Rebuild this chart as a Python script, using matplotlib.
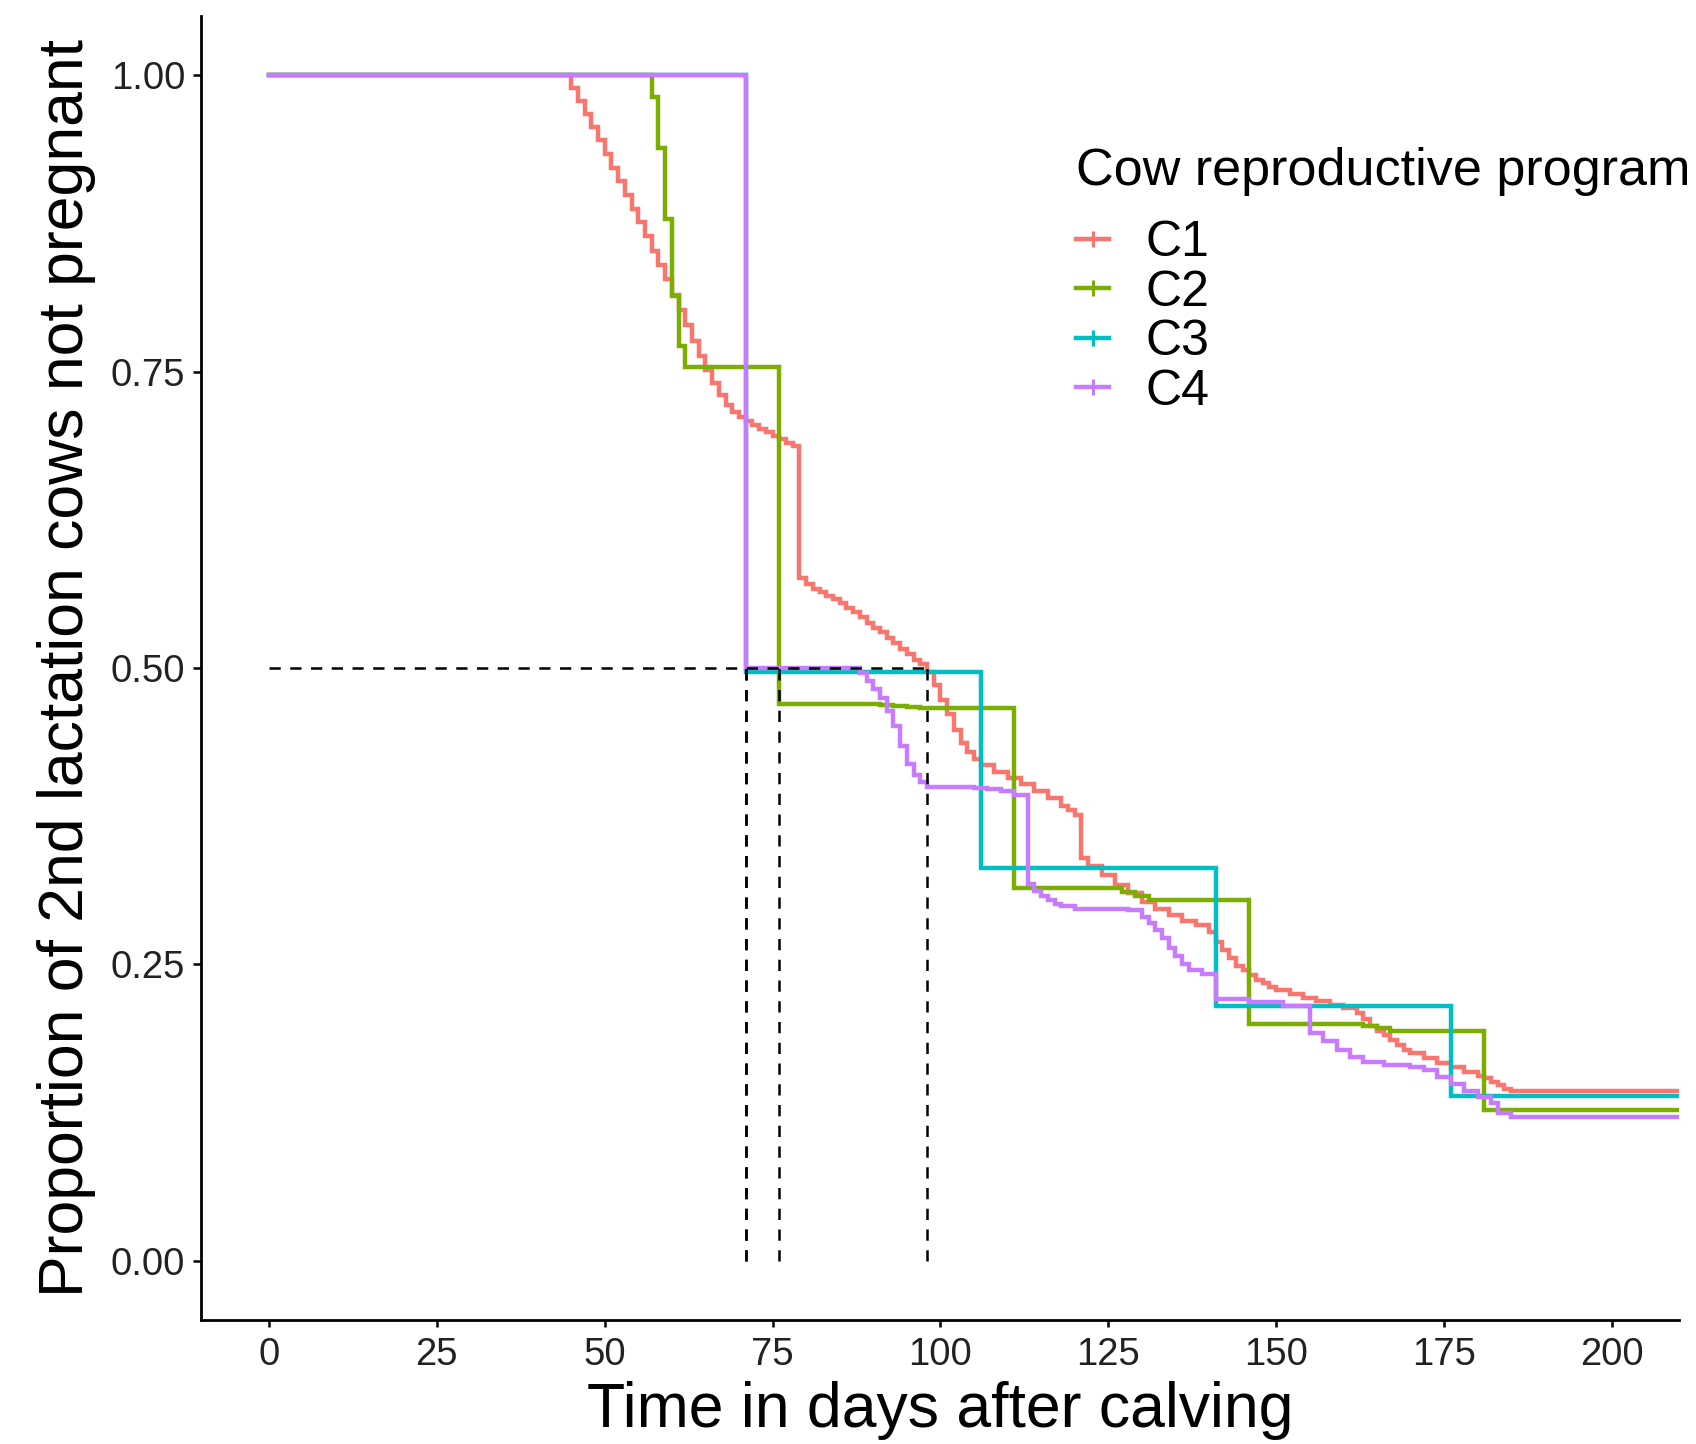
import matplotlib
matplotlib.use("Agg")
import matplotlib.pyplot as plt
from matplotlib.lines import Line2D

plt.rcParams['font.family'] = ['Liberation Sans', 'DejaVu Sans']

# ---- data (time in days, proportion not pregnant) ----
c1_t = [0, 45, 46, 47, 48, 49, 50, 51, 52, 53, 54, 55, 56, 57, 58, 59, 60, 61, 62, 63, 64, 65,
        66, 67, 68, 69, 70, 71, 72, 73, 74, 75, 76, 77, 78, 79, 80, 81, 82, 83, 84, 85, 86, 87,
        88, 89, 90, 91, 92, 93, 94, 95, 96, 97, 98, 99, 100, 101, 102, 103, 104, 105, 106, 108,
        110, 112, 114, 116, 118, 119, 120, 121, 122, 124, 126, 128, 130, 132, 134, 136, 138, 140,
        141, 142, 143, 144, 145, 146, 147, 148, 149, 150, 152, 154, 156, 158, 160, 162, 163, 164,
        165, 166, 167, 168, 169, 170, 172, 174, 176, 178, 180, 181, 182, 183, 184, 185, 210]
c1_s = [1.000, 0.989, 0.978, 0.967, 0.956, 0.945, 0.934, 0.922, 0.911, 0.899, 0.887, 0.876, 0.864,
        0.852, 0.840, 0.828, 0.815, 0.802, 0.789, 0.776, 0.763, 0.751, 0.740, 0.730, 0.722, 0.716,
        0.712, 0.708, 0.705, 0.702, 0.699, 0.696, 0.693, 0.690, 0.687, 0.576, 0.571, 0.567, 0.564,
        0.561, 0.558, 0.555, 0.551, 0.547, 0.543, 0.538, 0.534, 0.530, 0.525, 0.521, 0.516, 0.512,
        0.507, 0.503, 0.497, 0.486, 0.473, 0.461, 0.448, 0.437, 0.429, 0.423, 0.418, 0.412, 0.407,
        0.402, 0.396, 0.390, 0.384, 0.380, 0.376, 0.340, 0.333, 0.325, 0.317, 0.310, 0.303, 0.297,
        0.292, 0.287, 0.283, 0.277, 0.269, 0.262, 0.255, 0.249, 0.245, 0.241, 0.237, 0.234, 0.231,
        0.228, 0.225, 0.222, 0.219, 0.216, 0.213, 0.209, 0.204, 0.198, 0.194, 0.190, 0.186, 0.182,
        0.178, 0.175, 0.171, 0.167, 0.163, 0.159, 0.156, 0.154, 0.151, 0.148, 0.145, 0.143, 0.143]

c2_t = [0, 57, 58, 59, 60, 61, 62, 76, 91, 93, 95, 97, 111, 127, 129, 131, 146, 163, 165, 167, 181, 210]
c2_s = [1.000, 0.982, 0.939, 0.879, 0.814, 0.772, 0.754, 0.470, 0.469, 0.468, 0.467, 0.466,
        0.314, 0.311, 0.308, 0.304, 0.200, 0.198, 0.196, 0.194, 0.127, 0.127]

c3_t = [0, 71, 106, 141, 176, 210]
c3_s = [1.000, 0.497, 0.331, 0.215, 0.139, 0.139]

c4_t = [0, 71, 88, 89, 90, 91, 92, 93, 94, 95, 96, 97, 98, 105, 107, 109, 111, 113, 114, 115, 116,
        117, 118, 120, 128, 130, 131, 132, 133, 134, 135, 136, 137, 139, 141, 146, 151, 155, 157,
        159, 161, 163, 166, 170, 172, 174, 176, 178, 180, 182, 183, 185, 210]
c4_s = [1.000, 0.500, 0.496, 0.489, 0.482, 0.475, 0.464, 0.451, 0.434, 0.419, 0.410, 0.404, 0.400,
        0.399, 0.398, 0.396, 0.393, 0.318, 0.312, 0.308, 0.304, 0.301, 0.299, 0.297, 0.296, 0.290,
        0.285, 0.279, 0.272, 0.264, 0.257, 0.250, 0.245, 0.242, 0.221, 0.218, 0.215, 0.192, 0.185,
        0.178, 0.172, 0.168, 0.165, 0.163, 0.161, 0.155, 0.149, 0.143, 0.138, 0.133, 0.125, 0.121,
        0.121]

groups = ["C1", "C2", "C3", "C4"]
colors = ["#F8766D", "#7CAE00", "#00BFC4", "#C77CFF"]
medians = [98, 76, 71, 71]
median_level = 0.5

x_ticks = [0, 25, 50, 75, 100, 125, 150, 175, 200]
y_ticks = [0.00, 0.25, 0.50, 0.75, 1.00]
y_ticklabels = ["0.00", "0.25", "0.50", "0.75", "1.00"]

# ---- figure ----
W, H = 1696, 1444
fig = plt.figure(figsize=(W / 100, H / 100), dpi=100)
ax = fig.add_axes([201 / W, 1 - 1320 / H, (1679 - 201) / W, (1320 - 16) / H])

series = [(c1_t, c1_s), (c2_t, c2_s), (c3_t, c3_s), (c4_t, c4_s)]
for (t, s), col, g in zip(series, colors, groups):
    ax.step(t, s, where='post', color=col, lw=3.2, solid_joinstyle='miter', zorder=2)

# median reference lines
dash = (0, (4.5, 3.8))
ax.plot([0, max(medians)], [median_level, median_level], color='black', lw=1.8,
        linestyle=dash, zorder=3)
for m in medians:
    ax.plot([m, m], [0, median_level], color='black', lw=1.8, linestyle=dash, zorder=3)

ax.set_xlim(-10.13, 210)
ax.set_ylim(-0.05, 1.05)
ax.set_xticks(x_ticks)
ax.set_xticklabels([str(v) for v in x_ticks])
ax.set_yticks(y_ticks)
ax.set_yticklabels(y_ticklabels)

for side in ['top', 'right']:
    ax.spines[side].set_visible(False)
for side in ['left', 'bottom']:
    ax.spines[side].set_linewidth(2.0)
    ax.spines[side].set_color('black')

ax.tick_params(axis='both', colors='black', width=1.8, labelsize=27.5, labelcolor='#222222')
ax.tick_params(axis='x', length=5, pad=7)
ax.tick_params(axis='y', length=6, pad=5.5)

ax.set_xlabel("Time in days after calving", fontsize=45)
ax.xaxis.label.set_va('baseline')
ax.xaxis.set_label_coords(0.5, -(1427 - 1320) / (1320 - 16))
ax.set_ylabel("Proportion of 2nd lactation cows not pregnant", fontsize=45)
ax.yaxis.label.set_va('baseline')
ax.yaxis.set_label_coords(-(201 - 83) / (1679 - 201), 0.5)

handles = [Line2D([], [], color=c, lw=3.2, marker='|', markersize=12, markeredgewidth=2.2)
           for c in colors]
leg = ax.legend(handles, groups, title="Cow reproductive program", loc='upper left',
                bbox_to_anchor=(1076 / W, 1 - 147 / H), bbox_transform=fig.transFigure,
                frameon=False, fontsize=36, title_fontsize=37.5, handlelength=0.66,
                handletextpad=0.74, labelspacing=0.07, borderpad=0, borderaxespad=0,
                alignment='left', numpoints=1)
leg._legend_box.sep = 17.5

fig.savefig("out.png", dpi=100)
